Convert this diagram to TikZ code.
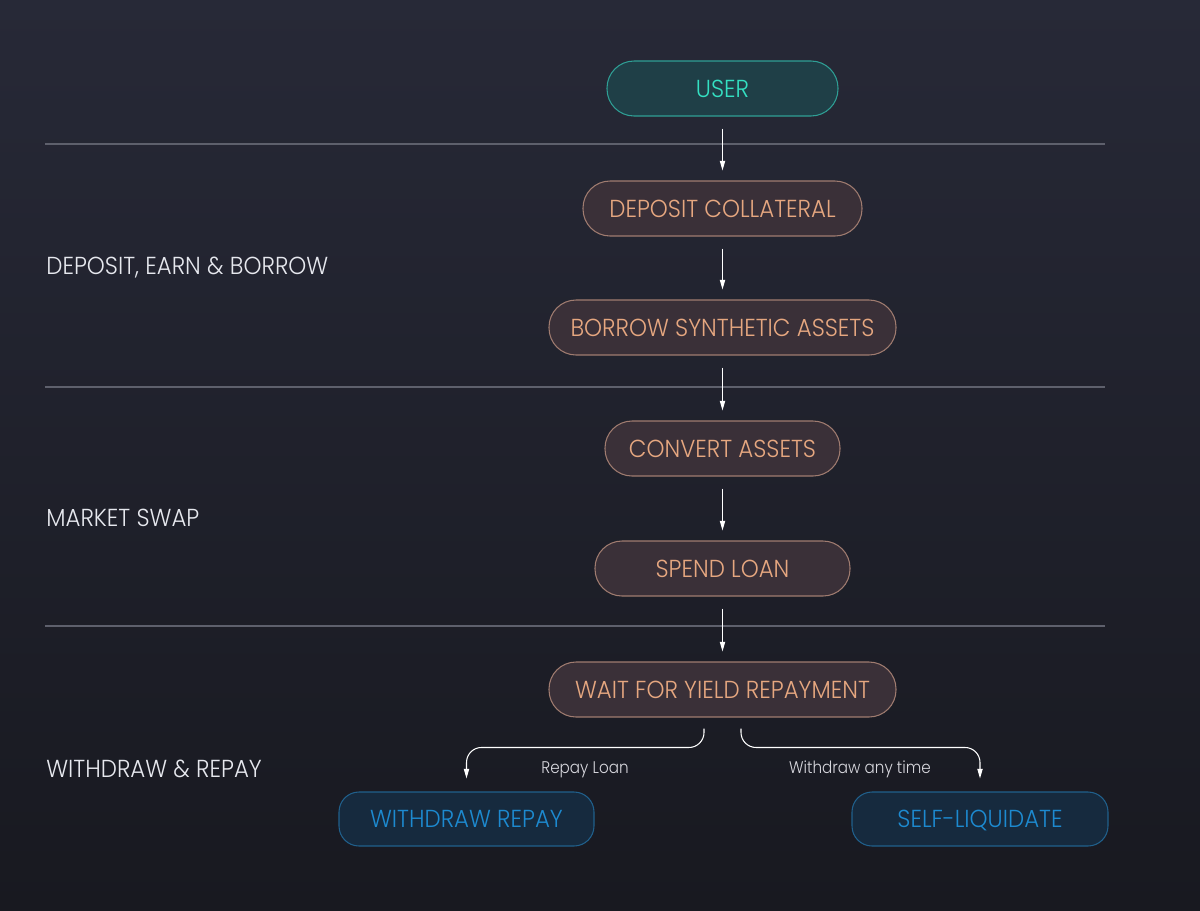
\documentclass[tikz,border=0pt]{standalone}
\usepackage{fontspec}
\setmainfont{Poppins}[UprightFont=* Light]
\newfontfamily\boxfont{Poppins}[UprightFont=* Light, FakeStretch=0.93]
\newfontfamily\smallfont{Poppins}[UprightFont=* Light, FakeStretch=0.9]
\usetikzlibrary{arrows.meta,calc}
\newdimen\px \px=0.02cm
\definecolor{bgtop}{HTML}{272937}
\definecolor{bgbot}{HTML}{181920}
\definecolor{sepline}{HTML}{5E606C}
\definecolor{userfill}{HTML}{1F3F47}
\definecolor{userdraw}{HTML}{2F9F95}
\definecolor{usertext}{HTML}{34E0C2}
\definecolor{stepfill}{HTML}{3A3038}
\definecolor{stepdraw}{HTML}{A07C70}
\definecolor{steptext}{HTML}{E6A780}
\definecolor{endfill}{HTML}{162A3E}
\definecolor{enddraw}{HTML}{20608C}
\definecolor{endtext}{HTML}{1D8AD0}
\definecolor{labeltext}{HTML}{E6E8EE}
\definecolor{edgetext}{HTML}{D8D8DE}
\tikzset{
  pill/.style={rectangle, rounded corners=27\px, line width=0.6pt,
    inner sep=0pt, text height=17.7\px, text depth=0pt,
    font=\boxfont\fontsize{14pt}{16pt}\selectfont, minimum height=55\px},
  userbox/.style={pill, fill=userfill, draw=userdraw, text=usertext},
  stepbox/.style={pill, fill=stepfill, draw=stepdraw, text=steptext},
  endbox/.style={pill, rounded corners=20\px, fill=endfill, draw=enddraw, text=endtext},
  phase/.style={anchor=base west, inner sep=0pt, text=labeltext,
    font=\boxfont\fontsize{14pt}{16pt}\selectfont},
  edgelabel/.style={anchor=base, inner sep=0pt, text=edgetext, font=\smallfont\fontsize{9.6pt}{11pt}\selectfont},
  flow/.style={draw=white, line width=0.6pt, -{Triangle[length=5.5pt,width=3pt]},
    shorten <=12\px, shorten >=10\px},
  branch/.style={draw=white, line width=0.6pt, rounded corners=15\px,
    -{Triangle[length=5.5pt,width=3pt]}},
  sep/.style={draw=sepline, line width=0.6pt}
}
\begin{document}
\begin{tikzpicture}[x=0.02cm, y=-0.02cm]
\useasboundingbox (0,0) rectangle (1200,910);
\shade[top color=bgtop, bottom color=bgbot] (0,0) rectangle (1200,910);

% separators
\draw[sep] (45,144) -- (1105,144);
\draw[sep] (45,387) -- (1105,387);
\draw[sep] (45,626) -- (1105,626);

% phase labels
\node[phase] (ph1) at (46,274) {DEPOSIT, EARN \& BORROW};
\node[phase] (ph2) at (46,526) {MARKET SWAP};
\node[phase] (ph3) at (46,777) {WITHDRAW \& REPAY};

% nodes
\node[userbox, minimum width=231\px] (user) at (722.5,88.5) {USER};
\node[stepbox, minimum width=279\px] (deposit) at (722.5,208.5) {DEPOSIT COLLATERAL};
\node[stepbox, minimum width=347\px] (borrow) at (722.5,327.5) {BORROW SYNTHETIC ASSETS};
\node[stepbox, minimum width=235\px] (convert) at (722.5,448.5) {CONVERT ASSETS};
\node[stepbox, minimum width=255\px] (spend) at (722.5,568.5) {SPEND LOAN};
\node[stepbox, minimum width=347\px] (wait) at (722.5,689.5) {WAIT FOR YIELD REPAYMENT};
\node[endbox, minimum width=255\px, minimum height=54\px] (withdraw) at (466.5,819) {WITHDRAW REPAY};
\node[endbox, minimum width=256\px, minimum height=54\px] (selfliq) at (980,819) {SELF-LIQUIDATE};

% straight connectors
\draw[flow] (user) -- (deposit);
\draw[flow] (deposit) -- (borrow);
\draw[flow] (borrow) -- (convert);
\draw[flow] (convert) -- (spend);
\draw[flow] (spend) -- (wait);

% branch connectors
\draw[branch] ($(wait.south)+(-18.5,11)$) |- ($(withdraw.north)+(0,-44)$) -- ($(withdraw.north)+(0,-13)$);
\draw[branch] ($(wait.south)+(18.5,11)$) |- ($(selfliq.north)+(0,-44)$) -- ($(selfliq.north)+(0,-13)$);

% connector labels
\node[edgelabel] (lblrepay) at (585,773) {Repay Loan};
\node[edgelabel] (lblwd) at (860,773) {Withdraw any time};
\end{tikzpicture}
\end{document}
